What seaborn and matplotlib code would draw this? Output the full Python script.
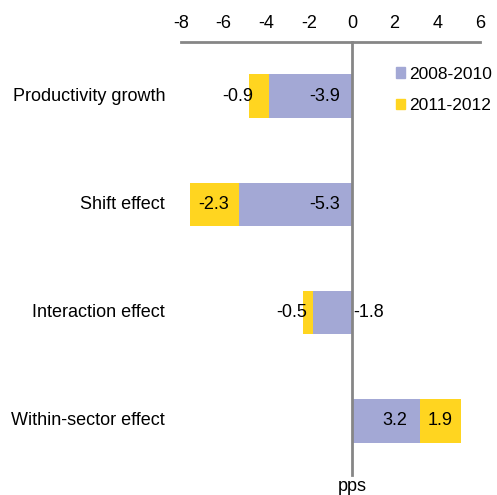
import matplotlib.pyplot as plt
import pandas as pd
import seaborn as sns
from matplotlib.patches import Patch

categories = ['Productivity growth', 'Shift effect', 'Interaction effect', 'Within-sector effect']
p2008_2010 = [-3.9, -5.3, -1.8, 3.2]
p2011_2012 = [-0.9, -2.3, -0.5, 1.9]
series_names = ['2008-2010', '2011-2012']

blue = '#A3A8D5'
yellow = '#FFD520'
grey = '#868686'

df = pd.DataFrame({'cat': categories, 'a': p2008_2010, 'b': p2011_2012})
df['total'] = df['a'] + df['b']

sns.set_style('white')
plt.rcParams['font.family'] = ['Liberation Sans', 'DejaVu Sans']
plt.rcParams['axes.unicode_minus'] = False
plt.rcParams['text.color'] = 'black'

fs = 13

fig = plt.figure(figsize=(4.97, 4.95), dpi=100)
ax = fig.add_axes([181 / 497, 20 / 495, 299 / 497, 433 / 495])

# total bar first (yellow), then the first period on top
sns.barplot(data=df, x='total', y='cat', orient='h', color=yellow, width=0.4,
            linewidth=0, saturation=1, ax=ax)
sns.barplot(data=df, x='a', y='cat', orient='h', color=blue, width=0.4,
            linewidth=0, saturation=1, ax=ax)

ax.set_xlim(-8, 6)
ax.set_ylim(3.5, -0.5)
ax.set_xticks(range(-8, 7, 2))
ax.xaxis.tick_top()
ax.tick_params(axis='x', length=0, labelsize=fs, pad=7, colors='black')
ax.set_yticks([])
ax.set_xlabel('')
ax.set_ylabel('')
for s in ['right', 'bottom']:
    ax.spines[s].set_visible(False)
ax.spines['top'].set_color(grey)
ax.spines['top'].set_linewidth(2)
ax.spines['left'].set_position(('data', 0))
ax.spines['left'].set_color(grey)
ax.spines['left'].set_linewidth(2)

tr = ax.get_yaxis_transform()
for i, c in enumerate(categories):
    ax.text(-0.053, i, c, transform=tr, ha='right', va='center', fontsize=fs, color='black')

# value labels
for i, (a, b) in enumerate(zip(p2008_2010, p2011_2012)):
    if a < 0 and abs(a) >= 3:
        ax.text(-0.55, i, f'{a:.1f}', ha='right', va='center', fontsize=fs, color='black')
    elif a < 0:
        ax.text(0.05, i, f'{a:.1f}', ha='left', va='center', fontsize=fs, color='black')
    else:
        ax.text(a - 0.6, i, f'{a:.1f}', ha='right', va='center', fontsize=fs, color='black')
    if abs(b) >= 1.2:
        ax.text(a + b / 2, i, f'{b:.1f}', ha='center', va='center', fontsize=fs, color='black')
    else:
        ax.text(a + b + 0.2, i, f'{b:.1f}', ha='right', va='center', fontsize=fs, color='black')

ax.text(0, -0.006, 'pps', transform=ax.get_xaxis_transform(), ha='center', va='top',
        fontsize=fs, color='black')

handles = [Patch(color=blue, label=series_names[0]), Patch(color=yellow, label=series_names[1])]
fig.legend(handles=handles, loc='upper left', bbox_to_anchor=(380 / 497, 1 - 51 / 495),
           frameon=False, fontsize=12.5, handlelength=0.55, handleheight=0.55,
           handletextpad=0.2, labelspacing=0.95)

fig.savefig('out.png', dpi=100)
